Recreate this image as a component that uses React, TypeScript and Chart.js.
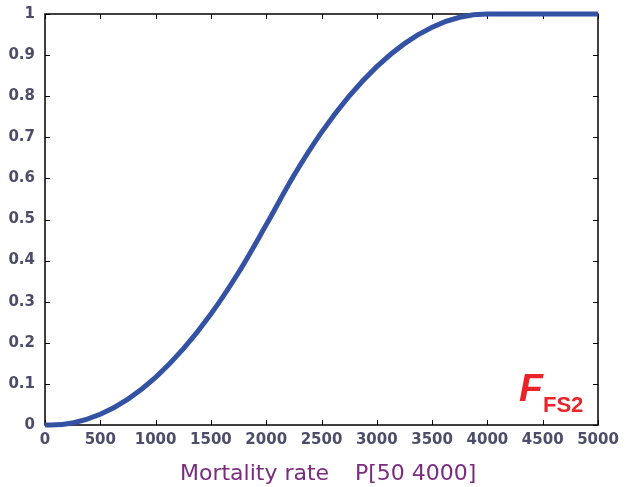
import React, { useEffect, useRef } from "react";
import { Chart, registerables } from "chart.js";

Chart.register(...registerables);

const xValues = [0, 50, 250, 500, 750, 1000, 1250, 1500, 1750, 2000, 2250, 2500, 2750, 3000, 3250, 3500, 3750, 4000, 4500, 5000];
const yValues = [0, 0, 0.005, 0.026, 0.063, 0.116, 0.185, 0.27, 0.371, 0.487, 0.607, 0.712, 0.8, 0.872, 0.928, 0.968, 0.992, 1, 1, 1];
const xTickStep = 500;
const yTickStep = 0.1;
const xTitleParts = ["Mortality rate", "P[50 4000]"];
const annotationMain = "F";
const annotationSub = "FS2";

const framePlugin = {
  id: "frame",
  beforeDatasetsDraw(chart: any) {
    const { ctx, chartArea } = chart;
    const { left, right, top, bottom } = chartArea;
    ctx.save();
    ctx.strokeStyle = "#000";
    ctx.lineWidth = 1.5;
    ctx.strokeRect(left, top, right - left, bottom - top);
    ctx.lineWidth = 1;
    const xs = chart.scales.x;
    const ys = chart.scales.y;
    const len = 5;
    ctx.beginPath();
    xs.ticks.forEach((t: any) => {
      const px = Math.round(xs.getPixelForValue(t.value)) + 0.5;
      ctx.moveTo(px, bottom);
      ctx.lineTo(px, bottom - len);
      ctx.moveTo(px, top);
      ctx.lineTo(px, top + len);
    });
    ys.ticks.forEach((t: any) => {
      const py = Math.round(ys.getPixelForValue(t.value)) + 0.5;
      ctx.moveTo(left, py);
      ctx.lineTo(left + len, py);
      ctx.moveTo(right, py);
      ctx.lineTo(right - len, py);
    });
    ctx.stroke();
    ctx.restore();
  },
  afterDraw(chart: any) {
    const { ctx } = chart;
    ctx.save();
    ctx.fillStyle = "#7a2b7e";
    ctx.font = "22px 'DejaVu Sans', Verdana, sans-serif";
    ctx.textAlign = "left";
    ctx.textBaseline = "alphabetic";
    ctx.fillText(xTitleParts[0], 180, 480);
    ctx.fillText(xTitleParts[1], 355, 480);
    ctx.fillStyle = "#ea2428";
    ctx.font = "italic bold 39px 'Liberation Sans', Arial, sans-serif";
    ctx.fillText(annotationMain, 519, 401);
    ctx.font = "bold 22px 'Liberation Sans', Arial, sans-serif";
    ctx.fillText(annotationSub, 543, 412);
    ctx.restore();
  },
};

export default function App() {
  const ref = useRef<HTMLCanvasElement | null>(null);
  useEffect(() => {
    document.body.style.margin = "0";
    const tickFont = { family: "'DejaVu Sans', Verdana, sans-serif", size: 15, weight: "bold" as const };
    const chart = new Chart(ref.current as HTMLCanvasElement, {
      type: "line",
      data: {
        datasets: [
          {
            data: xValues.map((x, i) => ({ x, y: yValues[i] })),
            borderColor: "#3452a4",
            borderWidth: 5,
            pointRadius: 0,
            cubicInterpolationMode: "monotone",
            fill: false,
            clip: false as any,
          },
        ],
      },
      options: {
        animation: false,
        responsive: true,
        maintainAspectRatio: false,
        layout: { padding: { left: 0, right: 29, top: 14, bottom: 0 } },
        plugins: { legend: { display: false }, tooltip: { enabled: false } },
        scales: {
          x: {
            type: "linear",
            min: 0,
            max: 5000,
            grid: { display: false, drawTicks: false },
            border: { display: false },
            ticks: {
              stepSize: xTickStep,
              color: "#4d4d6b",
              font: tickFont,
              padding: 6,
              maxRotation: 0,
              autoSkip: false,
              callback: (v: any) => String(v),
            },
            afterFit: (s: any) => {
              s.height = 62;
              s.paddingLeft = 0;
              s.paddingRight = 0;
            },
          },
          y: {
            type: "linear",
            min: 0,
            max: 1,
            grid: { display: false, drawTicks: false },
            border: { display: false },
            ticks: {
              stepSize: yTickStep,
              color: "#4d4d6b",
              font: tickFont,
              padding: 10,
              callback: (v: any) => String(Number(Number(v).toFixed(1))),
            },
            afterFit: (s: any) => {
              s.width = 45;
              s.paddingTop = 0;
              s.paddingBottom = 0;
            },
          },
        },
      },
      plugins: [framePlugin],
    });
    return () => chart.destroy();
  }, []);
  return (
    <div style={{ width: 627, height: 487, position: "relative", background: "#fff" }}>
      <canvas ref={ref} />
    </div>
  );
}
